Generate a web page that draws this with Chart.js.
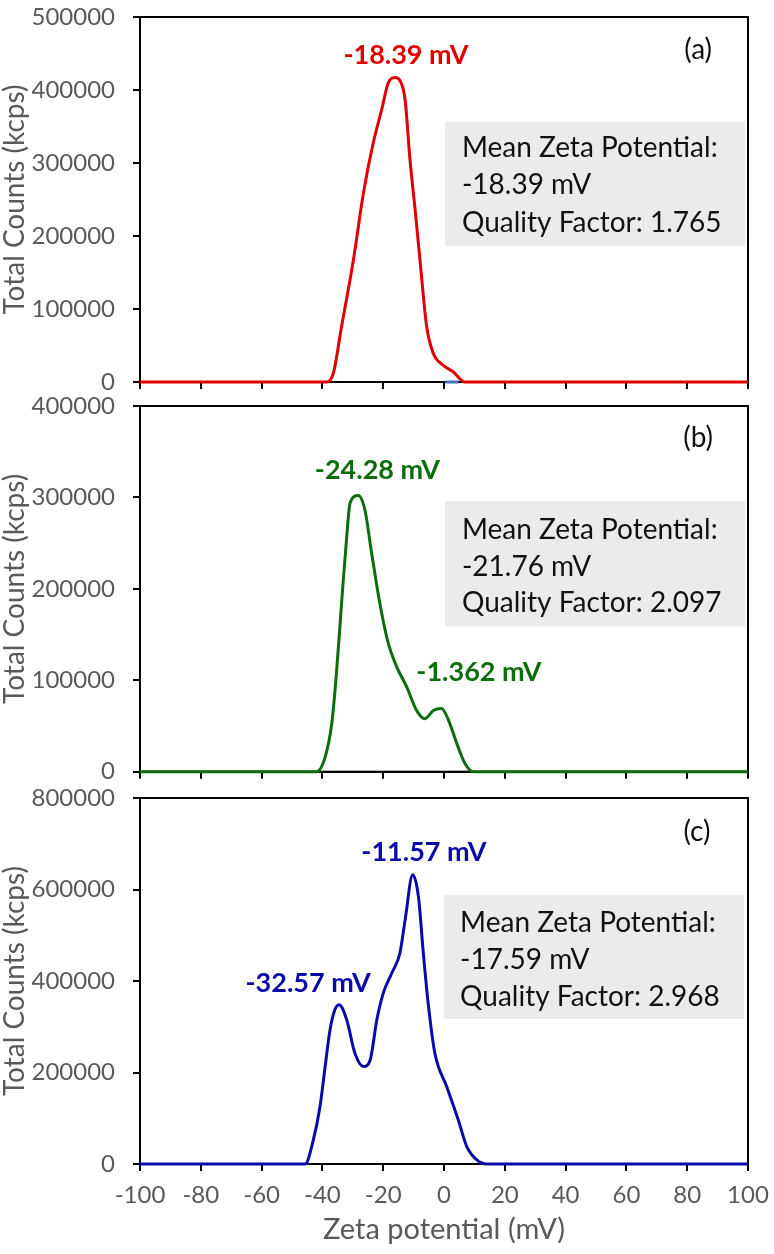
<!DOCTYPE html>
<html><head><meta charset="utf-8">
<script src="https://cdn.jsdelivr.net/npm/chart.js@4.4.0/dist/chart.umd.min.js"></script>
<style>
html,body{margin:0;padding:0;background:#fff;}
#wrap{position:relative;width:774px;height:1254px;overflow:hidden;}
canvas{position:absolute;left:0;}
</style></head><body>
<div id="wrap">
<canvas id="ca" width="774" height="400" style="top:0px"></canvas>
<canvas id="cb" width="774" height="400" style="top:390px"></canvas>
<canvas id="cc" width="774" height="474" style="top:780px"></canvas>
</div>
<script>
// ---- data ----
const xTicks = [-100, -80, -60, -40, -20, 0, 20, 40, 60, 80, 100];

const zetaA   = [-100, -38.6, -36.4, -33.7, -29.8, -26.5, -23.3, -20.5, -18.3, -16.1, -14.5, -12.8, -11.2, -9.5, -7.9, -5.7, -3.5, -0.3, 3.0, 6.9, 100];
const countsA = [0, 0, 12000, 76000, 167000, 259000, 327000, 373000, 410000, 417000, 413000, 387000, 305000, 236000, 167000, 76000, 39000, 23000, 14000, 0, 0];
const zetaA2   = [0.5, 4.8];   // short blue baseline segment visible under the red curve
const countsA2 = [0, 0];
const yTicksA = [0, 100000, 200000, 300000, 400000, 500000];

const zetaB   = [-100, -41.9, -39.1, -36.9, -35.3, -33.7, -32.0, -30.9, -28.2, -26.0, -23.8, -21.1, -18.3, -15.6, -12.3, -9.0, -6.3, -3.5, -0.8, 1.4, 4.2, 6.9, 9.6, 100];
const countsB = [0, 0, 16000, 53000, 111000, 184000, 257000, 294000, 302000, 286000, 239000, 184000, 140000, 115000, 93000, 67000, 58000, 67000, 69000, 57000, 31000, 9000, 0, 0];
const yTicksB = [0, 100000, 200000, 300000, 400000];

const zetaC   = [-100, -45.7, -43.0, -40.8, -39.1, -37.5, -35.9, -34.5, -32.0, -29.3, -26.5, -24.3, -22.1, -20.0, -17.2, -14.5, -12.8, -10.3, -8.4, -6.8, -5.2, -3.0, 0.9, 4.7, 7.5, 10.8, 14.0, 100];
const countsC = [0, 0, 52000, 125000, 213000, 293000, 337000, 348000, 315000, 242000, 213000, 227000, 315000, 373000, 417000, 461000, 533000, 632000, 584000, 461000, 351000, 242000, 169000, 96000, 38000, 9000, 0, 0];
const yTicksC = [0, 200000, 400000, 600000, 800000];

const peakTextA = ['-18.39 mV'];
const peakTextB = ['-24.28 mV', '-1.362 mV'];
const peakTextC = ['-11.57 mV', '-32.57 mV'];
const infoA = ['Mean Zeta Potential:', '-18.39 mV', 'Quality Factor: 1.765'];
const infoB = ['Mean Zeta Potential:', '-21.76 mV', 'Quality Factor: 2.097'];
const infoC = ['Mean Zeta Potential:', '-17.59 mV', 'Quality Factor: 2.968'];

const FONT = 'Lato, "Open Sans", sans-serif';
const GRAY = '#595959';

function makePanel(id, o) {
  const textPlugin = {
    id: 'panelText' + id,
    beforeDatasetsDraw(chart) {
      const {ctx, chartArea: a} = chart;
      ctx.save();
      ctx.strokeStyle = '#000';
      ctx.lineWidth = 2;
      ctx.strokeRect(a.left, a.top, a.right - a.left, a.bottom - a.top);
      const xs = chart.scales.x, ys = chart.scales.y;
      // info box
      const bx0 = xs.getPixelForValue(o.box.x0), bx1 = xs.getPixelForValue(o.box.x1);
      const by0 = ys.getPixelForValue(o.box.y0), by1 = ys.getPixelForValue(o.box.y1);
      ctx.fillStyle = '#ebebeb';
      ctx.fillRect(bx0, by0, bx1 - bx0, by1 - by0);
      ctx.fillStyle = '#111';
      ctx.font = '28px ' + FONT;
      ctx.textAlign = 'left';
      ctx.textBaseline = 'middle';
      o.info.forEach((t, i) => {
        ctx.fillText(t, xs.getPixelForValue(o.box.tx), ys.getPixelForValue(o.box.ty[i]));
      });
      // panel tag
      ctx.font = '28px ' + FONT;
      ctx.textAlign = 'center';
      ctx.fillText(o.tag.text, xs.getPixelForValue(o.tag.x), ys.getPixelForValue(o.tag.y));
      // peak labels
      ctx.font = 'bold 27px ' + FONT;
      ctx.fillStyle = o.color;
      o.peaks.forEach(p => {
        ctx.fillText(p.text, xs.getPixelForValue(p.x), ys.getPixelForValue(p.y));
      });
      ctx.restore();
    }
  };
  const datasets = [{
    data: o.zeta.map((z, i) => ({x: z, y: o.counts[i]})),
    showLine: true, borderColor: o.color, borderWidth: 3,
    pointRadius: 0, cubicInterpolationMode: 'monotone', clip: 6
  }];
  if (o.extra) {
    datasets.push({
      data: o.extra.zeta.map((z, i) => ({x: z, y: o.extra.counts[i]})),
      showLine: true, borderColor: o.extra.color, borderWidth: 3,
      pointRadius: 0, clip: 6
    });
  }
  return new Chart(document.getElementById(id), {
    type: 'scatter',
    data: {datasets},
    options: {
      responsive: false, animation: false, devicePixelRatio: 1,
      layout: {autoPadding: false, padding: {left: 0, right: 26, top: o.padTop, bottom: o.padBottom}},
      plugins: {legend: {display: false}, tooltip: {enabled: false}},
      scales: {
        x: {
          type: 'linear', min: -100, max: 100,
          afterBuildTicks: s => { s.ticks = xTicks.map(v => ({value: v})); },
          afterFit: s => { s.height = o.xHeight; s.paddingLeft = 0; s.paddingRight = 0; },
          border: {display: true, color: '#000', width: 2},
          grid: {drawOnChartArea: false, color: '#000', lineWidth: 2, tickLength: 7},
          ticks: {display: o.showX, color: GRAY, font: {family: FONT, size: 24}, padding: 10, maxRotation: 0},
          title: {display: o.showX, text: 'Zeta potential (mV)', color: GRAY, font: {family: FONT, size: 29}, padding: {top: 0, bottom: 7}}
        },
        y: {
          type: 'linear', min: 0, max: o.yTicks[o.yTicks.length - 1],
          afterBuildTicks: s => { s.ticks = o.yTicks.map(v => ({value: v})); },
          afterFit: s => { s.width = 140; s.paddingTop = 0; s.paddingBottom = 0; },
          border: {display: true, color: '#000', width: 2},
          grid: {drawOnChartArea: false, color: '#000', lineWidth: 2, tickLength: 7},
          ticks: {color: GRAY, font: {family: FONT, size: 24}, padding: 18, callback: v => String(v)},
          title: {display: true, text: 'Total Counts (kcps)', color: GRAY, font: {family: FONT, size: 28}, padding: {top: -2, bottom: 0}}
        }
      }
    },
    plugins: [textPlugin]
  });
}

makePanel('ca', {
  zeta: zetaA, counts: countsA, yTicks: yTicksA, color: '#e00000',
  extra: {zeta: zetaA2, counts: countsA2, color: '#4472c4'},
  padTop: 17, padBottom: 8, xHeight: 10, showX: false,
  peaks: [{text: peakTextA[0], x: -12.5, y: 448000}],
  tag: {text: '(a)', x: 83.6, y: 455000},
  info: infoA,
  box: {x0: 0.3, x1: 99, y0: 356600, y1: 186500, tx: 5.9, ty: [321000, 270000, 218000]}
});
makePanel('cb', {
  zeta: zetaB, counts: countsB, yTicks: yTicksB, color: '#0b6e0b',
  padTop: 16, padBottom: 8, xHeight: 10.3, showX: false,
  peaks: [{text: peakTextB[0], x: -21.9, y: 330000}, {text: peakTextB[1], x: 11.5, y: 109000}],
  tag: {text: '(b)', x: 83.6, y: 365000},
  info: infoB,
  box: {x0: 0.3, x1: 99, y0: 296000, y1: 159000, tx: 5.9, ty: [264000, 224000, 185000]}
});
makePanel('cc', {
  zeta: zetaC, counts: countsC, yTicks: yTicksC, color: '#0a0aaa',
  padTop: 18, padBottom: 0, xHeight: 90, showX: true,
  peaks: [{text: peakTextC[0], x: -6.6, y: 682000}, {text: peakTextC[1], x: -44.7, y: 396000}],
  tag: {text: '(c)', x: 83.2, y: 726000},
  info: infoC,
  box: {x0: 0.0, x1: 98.7, y0: 588000, y1: 317000, tx: 5.3, ty: [527000, 446000, 365000]}
});
</script>
</body></html>
